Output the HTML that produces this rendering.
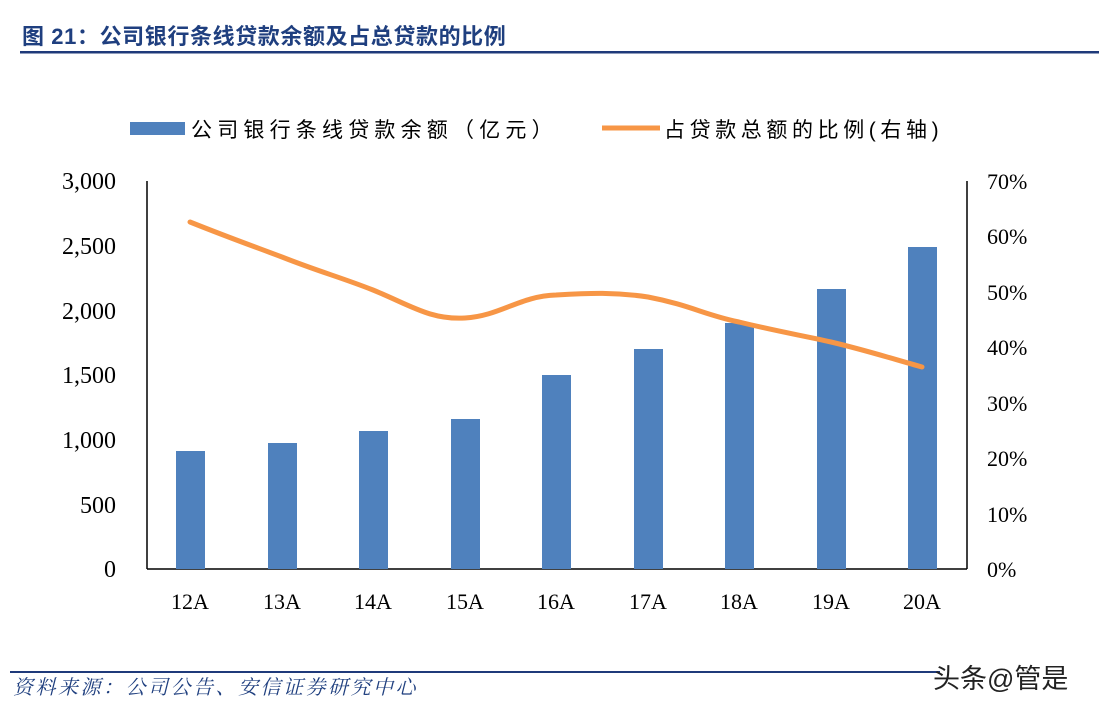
<!DOCTYPE html>
<html><head><meta charset="utf-8"><style>
body{margin:0;background:#fff;}
svg{display:block;}
</style></head><body>
<svg width="1099" height="711" xmlns="http://www.w3.org/2000/svg">
<text x="22" y="44" font-family="Liberation Sans, Noto Sans CJK SC, sans-serif" font-size="22" font-weight="bold" fill="#1f3f7f" letter-spacing="0.6">图 21：公司银行条线贷款余额及占总贷款的比例</text>
<rect x="20" y="51" width="1079" height="2.5" fill="#1f3a7a"/>
<g font-family="Liberation Sans, Noto Sans CJK SC, sans-serif" font-size="21" fill="#000">
<rect x="130" y="122" width="55" height="13" fill="#4f81bd"/>
<text x="191" y="137" letter-spacing="5.2">公司银行条线贷款余额（亿元）</text>
<line x1="602" y1="128" x2="660" y2="128" stroke="#f79646" stroke-width="5"/>
<text x="664" y="137" letter-spacing="4.6">占贷款总额的比例(右轴)</text>
</g>
<line x1="147" y1="181" x2="147" y2="569" stroke="#000" stroke-width="1.5"/>
<line x1="967" y1="181" x2="967" y2="569" stroke="#000" stroke-width="1.5"/>
<line x1="147" y1="569" x2="967" y2="569" stroke="#000" stroke-width="1.5"/>
<g fill="#4f81bd">
<rect x="176" y="451" width="29" height="118"/>
<rect x="268" y="443" width="29" height="126"/>
<rect x="359" y="431" width="29" height="138"/>
<rect x="451" y="419" width="29" height="150"/>
<rect x="542" y="375" width="29" height="194"/>
<rect x="634" y="349" width="29" height="220"/>
<rect x="725" y="323" width="29" height="246"/>
<rect x="817" y="289" width="29" height="280"/>
<rect x="908" y="247" width="29" height="322"/>
</g>
<path d="M190,222 C230,238 250,245 282,257 C320,272 340,277 373,290 C410,305 430,320 465,318 C500,316 520,296 556,295 C590,293 615,292 648,297 C690,305 705,315 739,322 C780,332 800,335 831,342 C865,350 890,358 922,367" fill="none" stroke="#f79646" stroke-width="5" stroke-linecap="round"/>
<g font-family="Liberation Serif, serif" font-size="24" fill="#000" text-anchor="end">
<text x="116" y="577">0</text>
<text x="116" y="513">500</text>
<text x="116" y="448">1,000</text>
<text x="116" y="383">1,500</text>
<text x="116" y="319">2,000</text>
<text x="116" y="254">2,500</text>
<text x="116" y="189">3,000</text>
</g>
<g font-family="Liberation Serif, serif" font-size="22" fill="#000">
<text x="987" y="577">0%</text>
<text x="987" y="522">10%</text>
<text x="987" y="466">20%</text>
<text x="987" y="411">30%</text>
<text x="987" y="355">40%</text>
<text x="987" y="300">50%</text>
<text x="987" y="244">60%</text>
<text x="987" y="189">70%</text>
</g>
<g font-family="Liberation Serif, serif" font-size="22" fill="#000" text-anchor="middle">
<text x="190" y="609">12A</text><text x="282" y="609">13A</text><text x="373" y="609">14A</text>
<text x="465" y="609">15A</text><text x="556" y="609">16A</text><text x="648" y="609">17A</text>
<text x="739" y="609">18A</text><text x="831" y="609">19A</text><text x="922" y="609">20A</text>
</g>
<rect x="10" y="671" width="930" height="2" fill="#1f3a7a"/>
<text x="13" y="694" font-family="Liberation Serif, Noto Serif CJK SC, serif" font-size="20" font-style="italic" fill="#1f3f7f" letter-spacing="2.5">资料来源：公司公告、安信证券研究中心</text>
<text x="933" y="688" font-family="Liberation Sans, Noto Sans CJK SC, sans-serif" font-size="27" fill="#222">头条@管是</text>
</svg>
</body></html>
